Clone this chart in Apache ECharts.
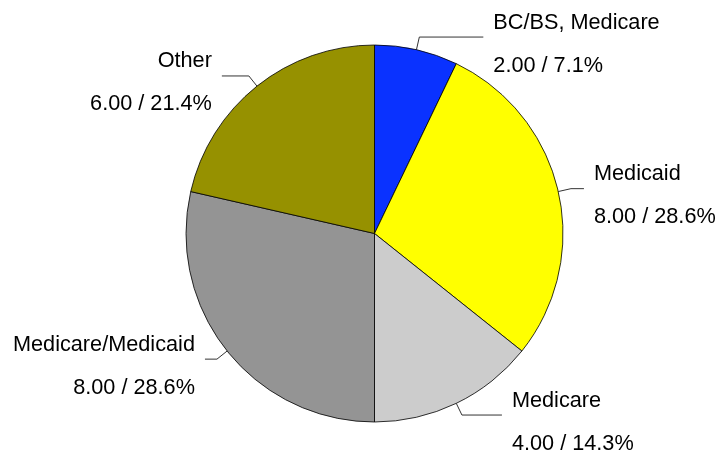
<!DOCTYPE html>
<html>
<head>
<meta charset="utf-8">
<script src="https://cdn.jsdelivr.net/npm/echarts@6/dist/echarts.min.js"></script>
<style>
  html, body { margin: 0; padding: 0; background: #fff; }
  #chart { width: 722px; height: 457px; }
</style>
</head>
<body>
<div id="chart"></div>
<script>
var names = ['BC/BS, Medicare', 'Medicaid', 'Medicare', 'Medicare/Medicaid', 'Other'];
var values = [2, 8, 4, 8, 6];
var colors = ['#0A32FF', '#FFFF00', '#CCCCCC', '#949494', '#969100'];
// horizontal part of each label line
var pull = [64, 13, 40, 12, 27];

var chart = echarts.init(document.getElementById('chart'));

var items = [];
for (var i = 0; i < names.length; i++) {
    items.push({
        name: names[i],
        value: values[i],
        itemStyle: { color: colors[i] },
        labelLine: { length2: pull[i] }
    });
}

chart.setOption({
    animation: false,
    backgroundColor: '#ffffff',
    series: [{
        type: 'pie',
        center: [374.5, 233.5],
        radius: 188.5,
        startAngle: 90,
        clockwise: true,
        avoidLabelOverlap: false,
        silent: true,
        itemStyle: { borderColor: '#000', borderWidth: 0.8 },
        label: {
            show: true,
            position: 'outside',
            color: '#000',
            fontFamily: 'Liberation Sans, Arial, sans-serif',
            fontSize: 21.7,
            lineHeight: 43,
            distanceToLabelLine: 10,
            formatter: function (p) {
                return '{s| }\n{t|' + p.name + '}\n{t|' + p.value.toFixed(2) + ' / ' + p.percent.toFixed(1) + '%}';
            },
            rich: {
                s: { fontSize: 4, lineHeight: 14 },
                t: { fontSize: 21.7, lineHeight: 43, color: '#000', fontFamily: 'Liberation Sans, Arial, sans-serif' }
            }
        },
        labelLine: {
            show: true,
            length: 13,
            smooth: false,
            lineStyle: { color: '#333', width: 1 }
        },
        data: items
    }]
});
</script>
</body>
</html>
